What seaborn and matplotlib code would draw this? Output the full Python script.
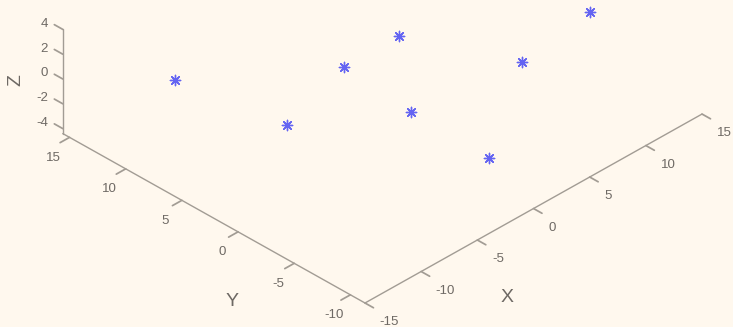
import matplotlib
matplotlib.use("Agg")
import matplotlib.pyplot as plt
import numpy as np
import pandas as pd
import seaborn as sns
from mpl_toolkits.mplot3d import proj3d

# Point coordinates
x_vals = [-10.1, -6.7, -3.5, 0.4, 0.8, 1.6, 5.8, 9.8]
y_vals = [10.5, 3.9, 2.1, 1.1, 0.4, -5.7, -4.5, -6.5]
z_vals = [0.0, -2.0, 2.0, 3.0, -3.0, -4.0, 1.0, 4.0]

# Axis ticks and limits
x_ticks = [-15, -10, -5, 0, 5, 10, 15]
y_ticks = [-10, -5, 0, 5, 10, 15]
z_ticks = [-4, -2, 0, 2, 4]
x_lim = (-15, 15)
y_lim = (-11.3, 15.6)
z_lim = (-4.4, 4.0)

BG = "#FFF8EE"
AXIS_COLOR = "#A29C94"
TEXT_COLOR = "#6E6964"
POINT_COLOR = "#6464F2"

sns.set_theme(style="white", rc={"figure.facecolor": BG, "axes.facecolor": BG,
                                 "savefig.facecolor": BG})
plt.rcParams["font.family"] = ["Liberation Sans", "DejaVu Sans"]
plt.rcParams["axes.unicode_minus"] = False

df = pd.DataFrame({"x": x_vals, "y": y_vals, "z": z_vals})

W, H = 733, 327
fig = plt.figure(figsize=(W / 100, H / 100), dpi=100)
ax = fig.add_axes([0, 0, 1, 1], projection="3d", proj_type="ortho")
ax.view_init(elev=34.1, azim=-135)

# per-unit screen scale for x/y and z
xy_unit, z_unit = 15.88, 14.97
ax.set_box_aspect(((x_lim[1] - x_lim[0]) * xy_unit,
                   (y_lim[1] - y_lim[0]) * xy_unit,
                   (z_lim[1] - z_lim[0]) * z_unit))

ax.scatter(df["x"], df["y"], df["z"], marker=(8, 2, 0), s=55,
           color=POINT_COLOR, linewidths=1.0, depthshade=False)

ax.set_xlim(*x_lim)
ax.set_ylim(*y_lim)
ax.set_zlim(*z_lim)
ax.set_xticks(x_ticks)
ax.set_yticks(y_ticks)
ax.set_zticks(z_ticks)
ax.grid(False)
ax.set_facecolor((1, 1, 1, 0))

# z ticks run along the y direction
ax.zaxis._get_tickdir = lambda position: 1

for axis, inward, outward in ((ax.xaxis, 0.35, 0.0),
                              (ax.yaxis, 0.35, 0.0),
                              (ax.zaxis, 0.0, 0.35)):
    axis.set_pane_color((1, 1, 1, 0))
    axis.pane.set_edgecolor((1, 1, 1, 0))
    axis.line.set_color(AXIS_COLOR)
    axis.line.set_linewidth(1.0)
    axis._axinfo["tick"]["inward_factor"] = inward
    axis._axinfo["tick"]["outward_factor"] = outward

ax.tick_params(color=AXIS_COLOR, labelcolor=TEXT_COLOR, labelsize=9.5, width=1.0)
ax.zaxis.set_tick_params(pad=-2.5)
for lbl in ax.get_xticklabels():
    lbl.set_horizontalalignment("left")
for lbl in ax.get_zticklabels():
    lbl.set_horizontalalignment("right")
    lbl.set_verticalalignment("bottom")

# Axis titles
fig.text(507 / W, 1 - 297 / H, "X", ha="center", va="center", fontsize=14, color=TEXT_COLOR)
fig.text(232 / W, 1 - 302 / H, "Y", ha="center", va="center", fontsize=14, color=TEXT_COLOR)
fig.text(16 / W, 1 - 80 / H, "Z", ha="center", va="center", fontsize=14,
         rotation=90, color=TEXT_COLOR)

# Place the box: near-bottom corner and x-axis end at fixed pixel spots
fig.canvas.draw()


def to_px(x, y, z):
    xs, ys, _ = proj3d.proj_transform(x, y, z, ax.M)
    return np.array(ax.transData.transform((xs, ys)))


corner_target = np.array([365.0, H - 303.0])
xend_target = np.array([702.0, H - 114.0])

p0 = to_px(x_lim[0], y_lim[0], z_lim[0])
p1 = to_px(x_lim[1], y_lim[0], z_lim[0])
k = np.linalg.norm(xend_target - corner_target) / np.linalg.norm(p1 - p0)

bb = ax.get_position()
c0 = np.array([(bb.x0 + bb.x1) / 2 * W, (bb.y0 + bb.y1) / 2 * H])
side = bb.width * W * k
c1 = corner_target - k * (p0 - c0)
ax.set_position([(c1[0] - side / 2) / W, (c1[1] - side / 2) / H, side / W, side / H])

fig.savefig("out.png", dpi=100, facecolor=BG)
